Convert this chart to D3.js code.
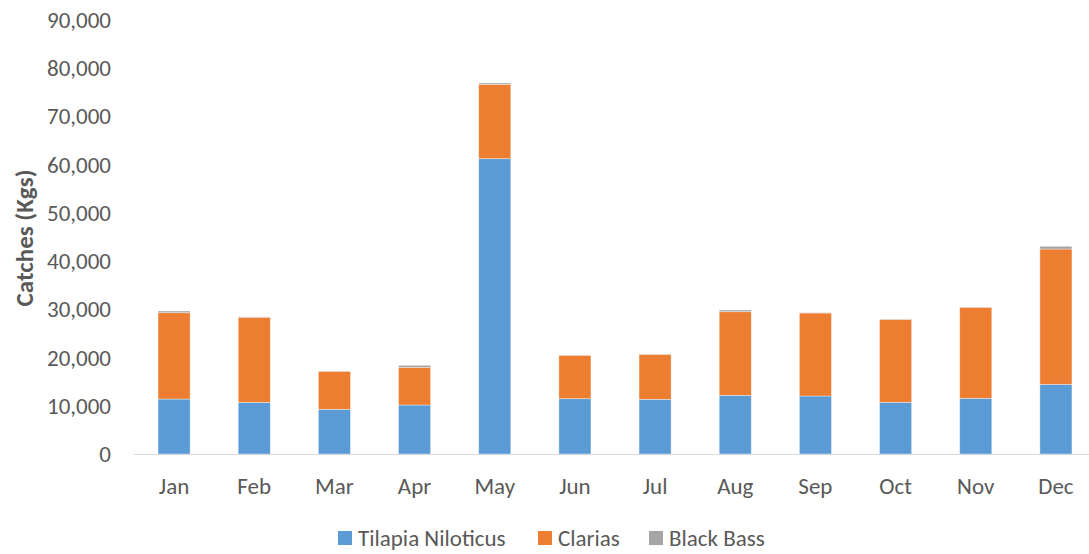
<!DOCTYPE html>
<html>
<head>
<meta charset="utf-8">
<script src="https://cdn.jsdelivr.net/npm/d3@7"></script>
<style>
  body { margin: 0; background: #fff; }
  svg { display: block; font-family: Carlito, Calibri, "Open Sans", sans-serif; }
</style>
</head>
<body>
<svg id="chart" width="1089" height="554"></svg>
<script>

var months = ['Jan', 'Feb', 'Mar', 'Apr', 'May', 'Jun', 'Jul', 'Aug', 'Sep', 'Oct', 'Nov', 'Dec'];

var tilapia = [11400, 10700, 9270, 10160, 61240, 11470, 11340, 12170, 12030, 10720, 11550, 14450];
var clarias = [17900, 17650, 7880, 7820, 15420, 9000, 9330, 17340, 17210, 17210, 18870, 28060];
var blackBass = [350, 100, 50, 410, 280, 40, 40, 350, 80, 50, 50, 560];

var seriesNames = ['Tilapia Niloticus', 'Clarias', 'Black Bass'];
var seriesColors = ['#5b9bd5', '#ed7d31', '#a5a5a5'];

var yTicks = [0, 10000, 20000, 30000, 40000, 50000, 60000, 70000, 80000, 90000];


var svg = d3.select('#chart');

var x = d3.scaleBand()
    .domain(months)
    .range([134, 1096])
    .paddingInner(0.6)
    .paddingOuter(0.3);

var y = d3.scaleLinear()
    .domain([0, 90000])
    .range([454, 20]);

var rows = months.map(function (m, i) {
    return { month: m, s0: tilapia[i], s1: clarias[i], s2: blackBass[i] };
});

var stack = d3.stack().keys(['s0', 's1', 's2']);
var layers = stack(rows);

// bars
svg.append('g')
    .selectAll('g')
    .data(layers)
    .enter()
    .append('g')
    .attr('fill', function (d, i) { return seriesColors[i]; })
    .selectAll('rect')
    .data(function (d) { return d; })
    .enter()
    .append('rect')
    .attr('x', function (d) { return x(d.data.month); })
    .attr('width', x.bandwidth())
    .attr('y', function (d) { return y(d[1]); })
    .attr('height', function (d) { return y(d[0]) - y(d[1]); })
    .attr('stroke', '#fff')
    .attr('stroke-opacity', 0.5)
    .attr('stroke-width', 0.75);

// x axis line
svg.append('line')
    .attr('x1', 134)
    .attr('x2', 1089)
    .attr('y1', y(0) + 0.5)
    .attr('y2', y(0) + 0.5)
    .attr('stroke', '#d9d9d9')
    .attr('stroke-width', 1);

// y tick labels
var fmt = d3.format(',');
svg.append('g')
    .selectAll('text')
    .data(yTicks)
    .enter()
    .append('text')
    .attr('x', 111)
    .attr('y', function (d) { return y(d); })
    .attr('dy', '0.35em')
    .attr('text-anchor', 'end')
    .attr('fill', '#595959')
    .style('font-size', '23px')
    .text(fmt);

// x labels
svg.append('g')
    .selectAll('text')
    .data(months)
    .enter()
    .append('text')
    .attr('x', function (d) { return x(d) + x.bandwidth() / 2; })
    .attr('y', 486)
    .attr('dy', '0.35em')
    .attr('text-anchor', 'middle')
    .attr('fill', '#595959')
    .style('font-size', '23px')
    .text(function (d) { return d; });

// y axis title
svg.append('text')
    .attr('transform', 'translate(24,238) rotate(-90)')
    .attr('dy', '0.35em')
    .attr('text-anchor', 'middle')
    .attr('fill', '#595959')
    .style('font-size', '25px')
    .style('font-weight', 'bold')
    .text('Catches (Kgs)');

// legend
var legendX = [338, 538, 649];
var legend = svg.append('g')
    .selectAll('g')
    .data(seriesNames)
    .enter()
    .append('g')
    .attr('transform', function (d, i) { return 'translate(' + legendX[i] + ',538)'; });

legend.append('rect')
    .attr('x', 0)
    .attr('y', -7)
    .attr('width', 14)
    .attr('height', 14)
    .attr('fill', function (d, i) { return seriesColors[i]; });

legend.append('text')
    .attr('x', 20)
    .attr('y', 0)
    .attr('dy', '0.35em')
    .attr('fill', '#595959')
    .style('font-size', '23px')
    .text(function (d) { return d; });

</script>
</body>
</html>
